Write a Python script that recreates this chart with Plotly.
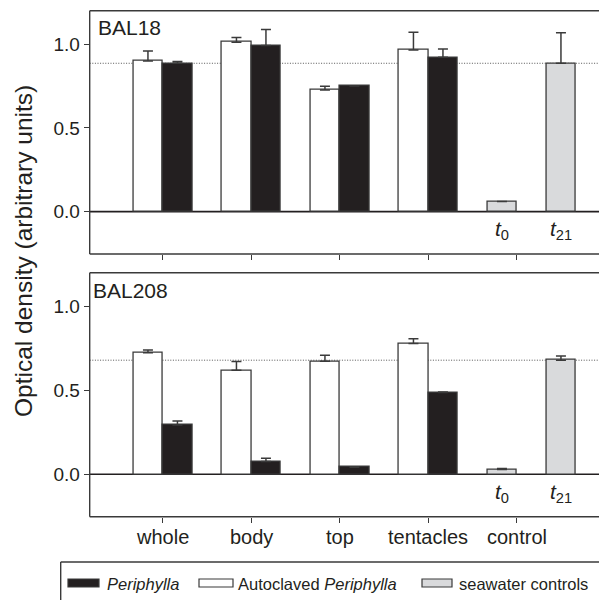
import plotly.graph_objects as go

# ---- data -------------------------------------------------------------
categories = ["whole", "body", "top", "tentacles", "control"]
control_labels = ["<i>t</i><sub>0</sub>", "<i>t</i><sub>21</sub>"]

# strain BAL18
bal18_auto = [0.900, 1.012, 0.727, 0.966]
bal18_auto_err = [0.060, 0.028, 0.022, 0.106]
bal18_peri = [0.886, 0.992, 0.751, 0.922]
bal18_peri_err = [0.010, 0.095, 0.000, 0.050]
bal18_ctrl = [0.060, 0.886]
bal18_ctrl_err = [0.000, 0.183]

# strain BAL208
bal208_auto = [0.724, 0.619, 0.673, 0.778]
bal208_auto_err = [0.016, 0.052, 0.035, 0.028]
bal208_peri = [0.293, 0.076, 0.042, 0.486]
bal208_peri_err = [0.024, 0.019, 0.003, 0.003]
bal208_ctrl = [0.028, 0.679]
bal208_ctrl_err = [0.006, 0.025]

# ---- styling ----------------------------------------------------------
FONT = "Liberation Sans, Arial, Helvetica, sans-serif"
INK = "#231f20"
EDGE = "#3a3a3a"
BLACK_FILL = "#231f20"
WHITE_FILL = "#ffffff"
GRAY_FILL = "#d9dadc"
BAR_W = 1 / 3

W, H = 599, 600


def px_x(p):
    return p / W


def px_y(p):
    return 1 - p / H


fig = go.Figure()

n = len(categories) - 1
auto_x = [i - BAR_W / 2 for i in range(n)]
peri_x = [i + BAR_W / 2 for i in range(n)]
ctrl_x = [n - BAR_W / 2, n + 0.5]


def add_bars(xs, ys, errs, fill, xa, ya):
    fig.add_trace(go.Bar(
        x=xs, y=ys, width=BAR_W, xaxis=xa, yaxis=ya,
        marker=dict(color=fill, line=dict(color=EDGE, width=1.3)),
        error_y=dict(type="data", symmetric=False, array=errs,
                     arrayminus=[0] * len(errs), color=EDGE,
                     thickness=1.5, width=5),
        showlegend=False, hoverinfo="x+y",
    ))


panels = [
    ("x", "y", bal18_auto, bal18_auto_err, bal18_peri, bal18_peri_err, bal18_ctrl, bal18_ctrl_err),
    ("x2", "y2", bal208_auto, bal208_auto_err, bal208_peri, bal208_peri_err, bal208_ctrl, bal208_ctrl_err),
]

XR = 580.0  # right edge of the plotting area, px
frame = dict(color=EDGE, width=1.4)
for xa, ya, a, ae, p, pe, c, ce in panels:
    add_bars(auto_x, a, ae, WHITE_FILL, xa, ya)
    add_bars(peri_x, p, pe, BLACK_FILL, xa, ya)
    add_bars(ctrl_x, c, ce, GRAY_FILL, xa, ya)
    # dotted reference at the t21 seawater control level, running to the page edge
    fig.add_shape(type="line", xref="paper", yref=ya,
                  x0=px_x(89.7), x1=1.0, y0=c[1], y1=c[1], layer="below",
                  line=dict(color="#555555", width=1, dash="1px,1.6px"))
    # open frame: top, bottom and left edges (the right side runs off the page)
    for yy in (0, 1):
        fig.add_shape(type="line", xref="paper", yref=f"{ya} domain",
                      x0=px_x(89.7), x1=1.0, y0=yy, y1=yy, line=frame)
    fig.add_shape(type="line", xref=f"{xa} domain", yref=f"{ya} domain",
                  x0=0, x1=0, y0=0, y1=1, line=frame)
    # zero baseline across the full width
    fig.add_shape(type="line", xref="paper", yref=ya,
                  x0=px_x(89.7), x1=1.0, y0=0, y1=0, layer="below",
                  line=dict(color=INK, width=1.6))
    for lx, lab in zip(ctrl_x, control_labels):
        fig.add_annotation(x=lx, y=-0.11, xref=xa, yref=ya, text=lab,
                           showarrow=False,
                           font=dict(family=FONT, size=21, color=INK))

# category names under the lower panel
for i, name in enumerate(categories):
    fig.add_annotation(x=i, y=px_y(537), xref="x2", yref="paper", text=name,
                       showarrow=False, xanchor="center", yanchor="middle",
                       font=dict(family=FONT, size=20, color=INK))

PX_PER_UNIT = 88.5
X0_PX = 162.7
XL = 89.7
xrange = [(XL - X0_PX) / PX_PER_UNIT, (XR - X0_PX) / PX_PER_UNIT]
yrange = [-0.253, 1.2]
xdom = [px_x(XL), px_x(XR)]

tick_common = dict(ticks="outside", ticklen=5, tickwidth=1.3, tickcolor=EDGE,
                   showgrid=False, showline=False, zeroline=False)

fig.update_layout(
    width=W, height=H,
    margin=dict(l=0, r=0, t=0, b=0),
    paper_bgcolor="white", plot_bgcolor="rgba(0,0,0,0)",
    font=dict(family=FONT, color=INK),
    bargap=0,
    xaxis=dict(domain=xdom, range=xrange, anchor="y",
               tickvals=list(range(len(categories))), showticklabels=False,
               **tick_common),
    yaxis=dict(domain=[px_y(254), px_y(10.7)], range=yrange, anchor="x",
               tickvals=[0, 0.5, 1.0], ticktext=["0.0", "0.5", "1.0"],
               tickfont=dict(size=19, family=FONT, color=INK),
               **tick_common),
    xaxis2=dict(domain=xdom, range=xrange, anchor="y2",
                tickvals=list(range(len(categories))), showticklabels=False,
                **tick_common),
    yaxis2=dict(domain=[px_y(516.7), px_y(272.7)], range=yrange, anchor="x2",
                tickvals=[0, 0.5, 1.0], ticktext=["0.0", "0.5", "1.0"],
                tickfont=dict(size=19, family=FONT, color=INK),
                **tick_common),
)

# panel names
fig.add_annotation(x=px_x(96), y=px_y(27.5), xref="paper", yref="paper",
                   text="BAL18", showarrow=False, xanchor="left", yanchor="middle",
                   font=dict(family=FONT, size=21, color=INK))
fig.add_annotation(x=px_x(91), y=px_y(290), xref="paper", yref="paper",
                   text="BAL208", showarrow=False, xanchor="left", yanchor="middle",
                   font=dict(family=FONT, size=21, color=INK))

# shared y-axis title
fig.add_annotation(x=px_x(23), y=px_y(251), xref="paper", yref="paper",
                   text="Optical density (arbitrary units)", textangle=-90,
                   showarrow=False, xanchor="center", yanchor="middle",
                   font=dict(family=FONT, size=24.5, color=INK))

# legend box drawn below the panels, open towards the right and bottom page edges
legend_frame = dict(color=EDGE, width=1.4)
fig.add_shape(type="line", xref="paper", yref="paper",
              x0=px_x(60.7), x1=1.0, y0=px_y(562), y1=px_y(562), line=legend_frame)
fig.add_shape(type="line", xref="paper", yref="paper",
              x0=px_x(60.7), x1=px_x(60.7), y0=px_y(562), y1=0, line=legend_frame)

legend_items = [
    (68, 99, BLACK_FILL, 105, "<i>Periphylla</i>"),
    (199, 233, WHITE_FILL, 236, "Autoclaved <i>Periphylla</i>"),
    (422, 452, GRAY_FILL, 457, "seawater controls"),
]
for sx0, sx1, fill, tx, label in legend_items:
    fig.add_shape(type="rect", xref="paper", yref="paper",
                  x0=px_x(sx0), x1=px_x(sx1), y0=px_y(587), y1=px_y(579),
                  line=dict(color=EDGE, width=1.2), fillcolor=fill)
    fig.add_annotation(x=px_x(tx), y=px_y(583.5), xref="paper", yref="paper",
                       text=label, showarrow=False, xanchor="left", yanchor="middle",
                       font=dict(family=FONT, size=16.5, color=INK))

fig.write_html("out.html")
